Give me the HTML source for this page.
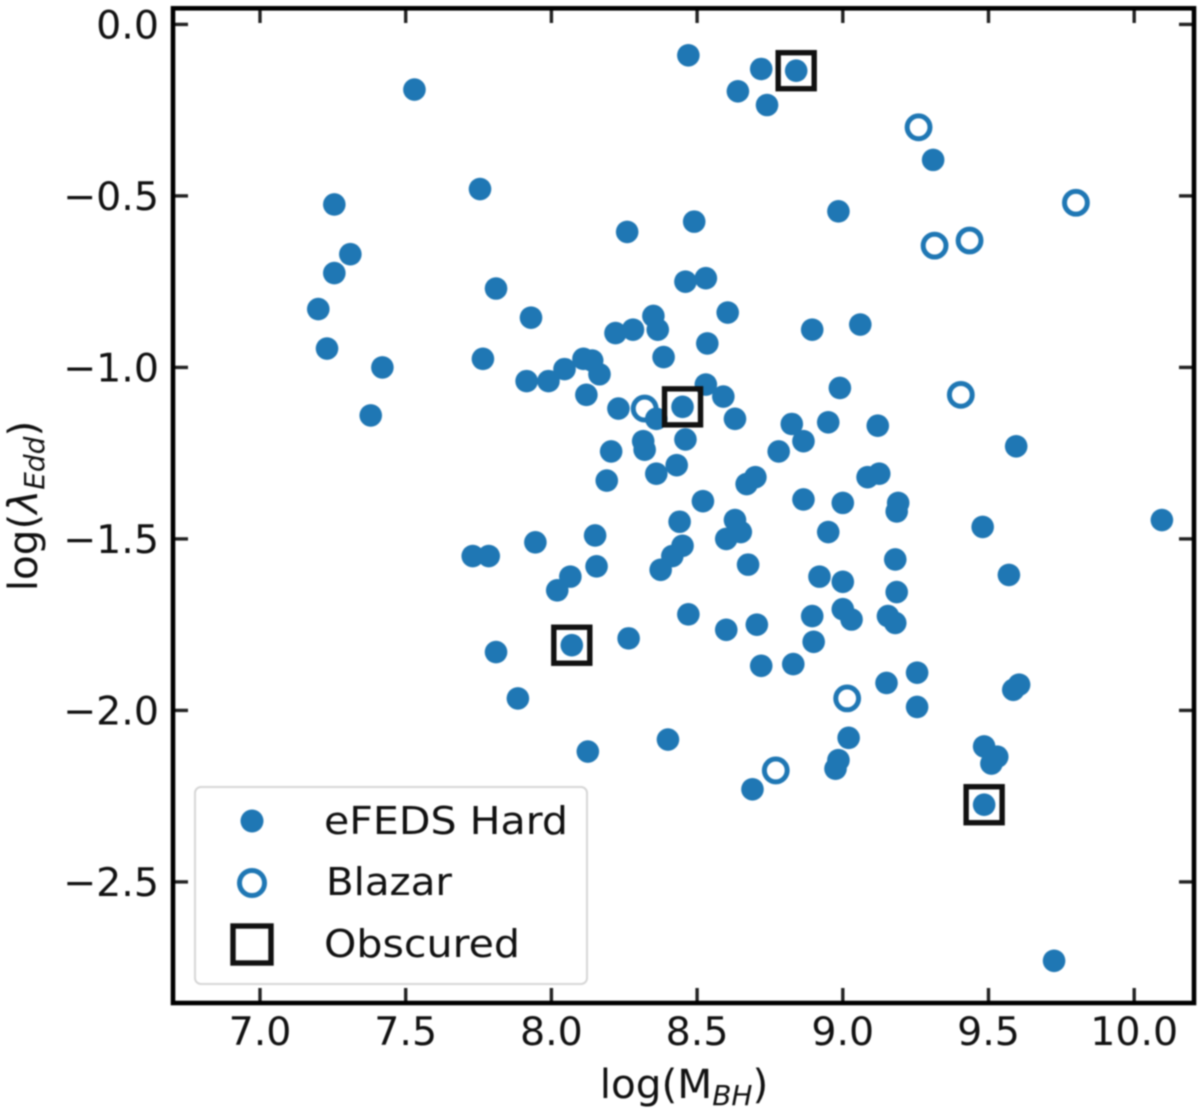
<!DOCTYPE html>
<html lang="en">
<head>
<meta charset="utf-8">
<title>log(M_BH) vs log(lambda_Edd)</title>
<style>
  html, body { margin: 0; padding: 0; background: #fff; }
  #chart { display: block; width: 1200px; height: 1114px; filter: blur(0.8px); }
  text { font-family: "DejaVu Sans", "Liberation Sans", sans-serif; fill: #111; }
</style>
</head>
<body>
<svg id="chart" xmlns="http://www.w3.org/2000/svg" width="1200" height="1114" viewBox="0 0 1200 1114">
  <rect x="0" y="0" width="1200" height="1114" fill="#fff"/>
  <g id="blazars"></g>
  <g id="hard"></g>
  <g id="obscured"></g>
  <g id="ticks"></g>
  <rect x="173" y="8.3" width="1021" height="994.7" fill="none" stroke="#000" stroke-width="4.6"/>
  <text x="684" y="1098" font-size="40.5" text-anchor="middle">log(M<tspan font-size="28" font-style="italic" dy="7">BH</tspan><tspan dy="-7">)</tspan></text>
  <text transform="translate(37,506) rotate(-90)" font-size="40.5" text-anchor="middle">log(<tspan font-style="italic">λ</tspan><tspan font-size="28" font-style="italic" dy="7">Edd</tspan><tspan dy="-7">)</tspan></text>
  <g>
    <rect x="195" y="787" width="392" height="197" rx="6" ry="6" fill="#fff" fill-opacity="0.85" stroke="#d6d6d6" stroke-width="2"/>
    <circle cx="252" cy="821" r="11.5" fill="#1f77b4"/>
    <text x="324" y="834" font-size="38.5" textLength="244" lengthAdjust="spacingAndGlyphs">eFEDS Hard</text>
    <circle cx="252" cy="883" r="12.5" fill="#fff" stroke="#1f77b4" stroke-width="5"/>
    <text x="326" y="895" font-size="38.5" textLength="126" lengthAdjust="spacingAndGlyphs">Blazar</text>
    <rect x="233" y="926" width="38" height="37" fill="none" stroke="#111" stroke-width="5.4"/>
    <text x="324" y="957" font-size="38.5" textLength="196" lengthAdjust="spacingAndGlyphs">Obscured</text>
  </g>
</svg>
<script>
const xTicks = [7.0, 7.5, 8.0, 8.5, 9.0, 9.5, 10.0];
const yTicks = [0.0, -0.5, -1.0, -1.5, -2.0, -2.5];

const hardMass = [8.47,8.84,8.72,8.64,8.74,7.53,9.31,7.755,7.255,8.985,8.49,8.26,7.31,7.255,8.53,8.46,7.81,7.2,8.605,7.93,8.35,8.365,8.28,8.22,8.895,9.06,7.23,8.535,8.385,7.765,7.42,8.11,8.14,8.045,8.165,7.915,7.99,8.99,8.53,8.59,8.12,8.23,7.38,8.45,8.36,8.63,8.825,8.95,9.12,8.315,8.32,8.46,8.205,8.865,8.78,9.595,8.43,8.36,8.19,8.7,8.67,9.125,9.085,8.52,8.865,9.0,9.19,9.185,9.48,10.095,8.44,8.63,8.65,8.6,8.95,8.15,7.945,8.45,8.415,8.375,7.73,7.785,8.155,8.675,9.18,9.57,8.065,8.02,8.92,9.0,9.185,9.0,9.03,8.895,8.47,9.155,9.18,8.6,8.705,8.265,8.07,8.9,7.81,8.72,8.83,9.255,9.15,9.585,9.605,7.885,9.255,9.02,8.4,8.125,9.485,9.53,9.51,8.985,8.975,8.69,9.485,9.725];
const hardEdd = [-0.09,-0.135,-0.13,-0.195,-0.235,-0.19,-0.395,-0.48,-0.525,-0.545,-0.575,-0.605,-0.67,-0.725,-0.74,-0.75,-0.77,-0.83,-0.84,-0.855,-0.85,-0.89,-0.89,-0.9,-0.89,-0.875,-0.945,-0.93,-0.97,-0.975,-1.0,-0.975,-0.98,-1.005,-1.02,-1.04,-1.04,-1.06,-1.05,-1.085,-1.08,-1.12,-1.14,-1.115,-1.15,-1.15,-1.165,-1.16,-1.17,-1.215,-1.24,-1.21,-1.245,-1.215,-1.245,-1.23,-1.285,-1.31,-1.33,-1.32,-1.34,-1.31,-1.32,-1.39,-1.385,-1.395,-1.395,-1.42,-1.465,-1.445,-1.45,-1.445,-1.48,-1.5,-1.48,-1.49,-1.51,-1.52,-1.55,-1.59,-1.55,-1.55,-1.58,-1.575,-1.56,-1.605,-1.61,-1.65,-1.61,-1.625,-1.655,-1.705,-1.735,-1.725,-1.72,-1.725,-1.745,-1.765,-1.75,-1.79,-1.81,-1.8,-1.83,-1.87,-1.865,-1.89,-1.92,-1.94,-1.925,-1.965,-1.99,-2.08,-2.085,-2.12,-2.105,-2.135,-2.155,-2.145,-2.17,-2.23,-2.275,-2.73];

const blazarMass = [9.26,9.8,9.435,9.315,8.32,9.405,9.015,8.77];
const blazarEdd = [-0.3,-0.52,-0.63,-0.645,-1.12,-1.08,-1.965,-2.175];

const obscuredMass = [8.84,8.45,8.07,9.485];
const obscuredEdd = [-0.135,-1.115,-1.81,-2.275];

const NS = 'http://www.w3.org/2000/svg';
function sx(v) { return 260 + (v - 7.0) * 291.4; }
function sy(v) { return 24.4 - v * 343; }
function make(tag, parent, attrs) {
  const el = document.createElementNS(NS, tag);
  for (const k in attrs) el.setAttribute(k, attrs[k]);
  parent.appendChild(el);
  return el;
}
function fmt(v) {
  return (v < 0 ? '\u2212' : '') + Math.abs(v).toFixed(1);
}

const tickGroup = document.getElementById('ticks');
xTicks.forEach(function (v) {
  const x = sx(v);
  const bottom = make('line', tickGroup, { x1: x, x2: x, y1: 1003, y2: 988, stroke: '#222', 'stroke-width': 3.4 });
  
  
  const top = make('line', tickGroup, { x1: x, x2: x, y1: 8, y2: 23, stroke: '#222', 'stroke-width': 3.4 });
  
  
  const label = make('text', tickGroup, { x: x, y: 1045, 'font-size': 39.5, 'text-anchor': 'middle' });
  label.textContent = fmt(v);
  
  
});
yTicks.forEach(function (v) {
  const y = sy(v);
  const left = make('line', tickGroup, { x1: 173, x2: 188, y1: y, y2: y, stroke: '#222', 'stroke-width': 3.4 });
  
  
  const right = make('line', tickGroup, { x1: 1179, x2: 1194, y1: y, y2: y, stroke: '#222', 'stroke-width': 3.4 });
  
  
  const label = make('text', tickGroup, { x: 159, y: y + 14, 'font-size': 39.5, 'text-anchor': 'end' });
  label.textContent = fmt(v);
  
  
});

const blazarGroup = document.getElementById('blazars');
blazarMass.forEach(function (m, i) {
  const c = make('circle', blazarGroup, { cx: sx(m), cy: sy(blazarEdd[i]), r: 11.4, fill: '#fff', stroke: '#1f77b4', 'stroke-width': 5 });
  
  
});

const hardGroup = document.getElementById('hard');
hardMass.forEach(function (m, i) {
  const c = make('circle', hardGroup, { cx: sx(m), cy: sy(hardEdd[i]), r: 11.3, fill: '#1f77b4' });
  
  
});

const obscuredGroup = document.getElementById('obscured');
obscuredMass.forEach(function (m, i) {
  const s = make('rect', obscuredGroup, { x: sx(m) - 18, y: sy(obscuredEdd[i]) - 18, width: 36, height: 36, fill: 'none', stroke: '#111', 'stroke-width': 5.4 });
  
  
});
</script>
</body>
</html>
